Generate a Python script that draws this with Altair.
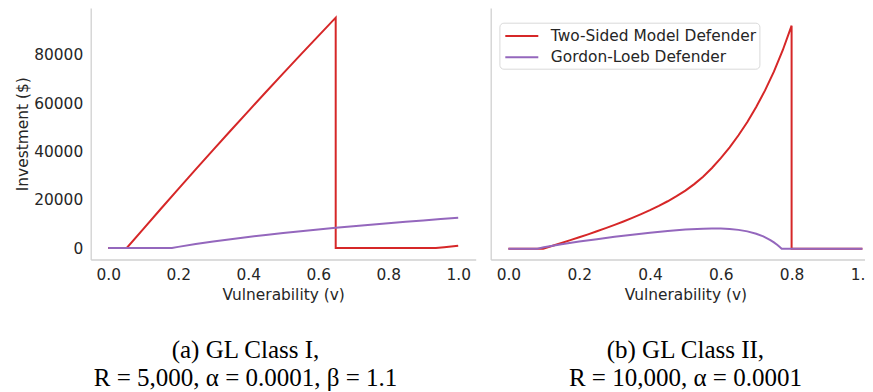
import altair as alt
import pandas as pd

SERIES = ["Two-Sided Model Defender", "Gordon-Loeb Defender"]
COLORS = ["#d62728", "#9467bd"]
X_TICKS = [0.0, 0.2, 0.4, 0.6, 0.8, 1.0]
Y_TICKS = [0, 20000, 40000, 60000, 80000]

# Panel (a): GL Class I
A_RED_V = [0.0, 0.053, 0.1, 0.15, 0.2, 0.25, 0.3, 0.35, 0.4, 0.45, 0.5, 0.55, 0.6, 0.65,
           0.65, 0.7, 0.75, 0.8, 0.85, 0.9, 0.936, 0.96, 0.98, 1.0]
A_RED_INV = [0, 0, 7860, 16160, 24400, 32560, 40660, 48690, 56650, 64550, 72380, 80140, 87830, 95460,
             0, 0, 0, 0, 0, 0, 0, 330, 640, 950]
A_GL_V = [0.0, 0.05, 0.1, 0.15, 0.182, 0.2, 0.25, 0.3, 0.35, 0.4, 0.45, 0.5, 0.55, 0.6, 0.65,
          0.7, 0.75, 0.8, 0.85, 0.9, 0.95, 1.0]
A_GL_INV = [0, 0, 0, 0, 0, 464, 1637, 2693, 3660, 4556, 5397, 6188, 6940, 7656, 8343,
            9003, 9638, 10250, 10843, 11418, 11977, 12520]

# Panel (b): GL Class II
B_RED_V = [0.0, 0.05, 0.098, 0.1, 0.125, 0.15, 0.175, 0.2, 0.225, 0.25, 0.275, 0.3, 0.325, 0.35,
           0.375, 0.4, 0.425, 0.45, 0.475, 0.5, 0.525, 0.55, 0.575, 0.6, 0.625, 0.65, 0.675, 0.7,
           0.725, 0.75, 0.775, 0.8, 0.8, 0.85, 0.9, 0.95, 1.0]
B_RED_INV = [0, 0, 0, 90, 1220, 2370, 3540, 4740, 5960, 7215, 8520, 9870, 11280, 12760,
             14320, 15975, 17760, 19680, 21775, 24070, 26790, 29890, 33500, 37540, 42040, 47040, 52520, 58740,
             65660, 73445, 82325, 92500, 0, 0, 0, 0, 0]
B_GL_V = [0.0, 0.05, 0.082, 0.1, 0.125, 0.15, 0.2, 0.25, 0.3, 0.35, 0.4, 0.45, 0.5, 0.55, 0.575,
          0.6, 0.625, 0.65, 0.675, 0.7, 0.72, 0.74, 0.75, 0.76, 0.765, 0.772, 0.8, 0.9, 1.0]
B_GL_INV = [0, 0, 0, 612, 1260, 1859, 2957, 3966, 4910, 5794, 6611, 7338, 7932, 8316, 8391,
            8357, 8179, 7812, 7189, 6219, 5106, 3588, 2637, 1529, 909, 0, 0, 0, 0]

CAPTION_A = ["(a) GL Class I,", "R = 5,000, α = 0.0001, β = 1.1"]
CAPTION_B = ["(b) GL Class II,", "R = 10,000, α = 0.0001"]


def frame(v, inv, name):
    return pd.DataFrame({"v": v, "inv": inv, "series": name, "idx": list(range(len(v)))})


SANS = "DejaVu Sans"
SERIF = "Liberation Serif"
FS = 15.4
CAP_FS = 25
TXT = "#262626"
SPINE = "#d0d0d0"

color_scale = alt.Scale(domain=SERIES, range=COLORS)


def panel(red_df, gl_df, ydom, show_y, legend, caption, width):
    x = alt.X("v:Q", scale=alt.Scale(domain=[-0.05, 1.05], nice=False, zero=False),
              axis=alt.Axis(values=X_TICKS, format=".1f", title="Vulnerability (v)"))
    if show_y:
        yaxis = alt.Axis(values=Y_TICKS, format="d", title="Investment ($)")
    else:
        yaxis = alt.Axis(labels=False, title=None)
    y = alt.Y("inv:Q", scale=alt.Scale(domain=ydom, nice=False, zero=False), axis=yaxis)
    col = alt.Color("series:N", scale=color_scale, legend=legend)
    red = alt.Chart(red_df).mark_line(strokeWidth=2, clip=True).encode(
        x=x, y=y, color=col, order=alt.Order("idx:Q"))
    gl = alt.Chart(gl_df).mark_line(strokeWidth=2, clip=True).encode(
        x=x, y=y, color=col, order=alt.Order("idx:Q"))
    title = alt.TitleParams(
        text=caption[0], subtitle=caption[1], orient="bottom", anchor="middle", frame="bounds",
        font=SERIF, fontSize=CAP_FS, fontWeight="normal", color="black",
        subtitleFont=SERIF, subtitleFontSize=CAP_FS, subtitleColor="black",
        subtitlePadding=3, offset=35.5)
    return alt.layer(red, gl).properties(width=width, height=251.5, title=title)


legend_b = alt.Legend(
    orient="none", legendX=8.7, legendY=14.7, title=None,
    symbolType="M-1.65,0H1.65", symbolSize=400, symbolStrokeWidth=2,
    symbolOffset=9.05, labelOffset=18, rowPadding=1.3, padding=2.35, labelLimit=400,
    labelFont=SANS, labelFontSize=FS, labelColor=TXT,
    strokeColor="#d9d9d9", fillColor="white", cornerRadius=4)

left = panel(frame(A_RED_V, A_RED_INV, SERIES[0]), frame(A_GL_V, A_GL_INV, SERIES[1]),
             [-4766, 99469], True, None, CAPTION_A, 385)
right = panel(frame(B_RED_V, B_RED_INV, SERIES[0]), frame(B_GL_V, B_GL_INV, SERIES[1]),
              [-4480, 99843], False, legend_b, CAPTION_B, 389.4)

chart = alt.hconcat(left, right, spacing=15).resolve_scale(color="independent").resolve_legend(
    color="independent"
).properties(
    padding={"left": 6.7, "top": 0, "right": -16.2, "bottom": 0}
).configure_view(stroke=None).configure_axis(
    grid=False, ticks=False, tickSize=0, domainColor=SPINE, domainWidth=1.3,
    labelFont=SANS, labelFontSize=FS, labelColor=TXT, labelPadding=8,
    titleFont=SANS, titleFontSize=FS, titleColor=TXT, titleFontWeight="normal",
).configure_axisX(titlePadding=4.2).configure_axisY(titlePadding=3.4)

chart.save("out.html", embed_options={"renderer": "svg", "actions": False})
